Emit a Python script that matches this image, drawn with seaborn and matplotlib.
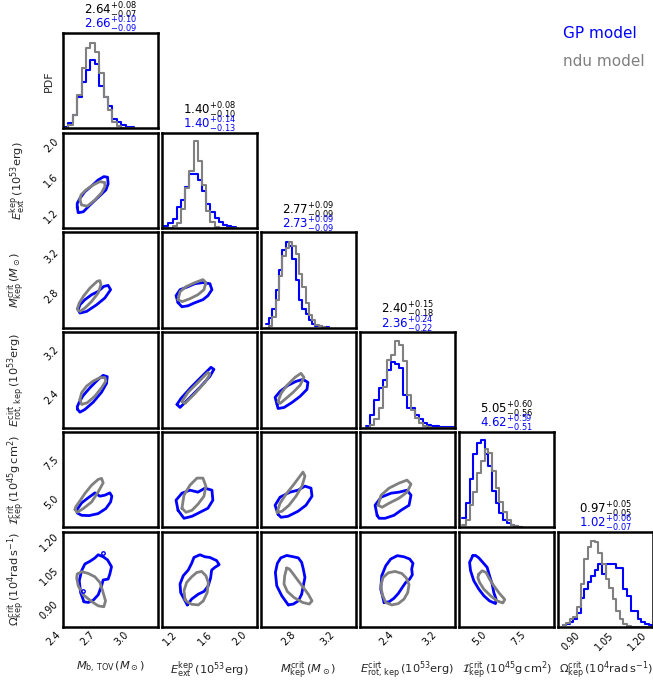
import numpy as np
import pandas as pd
import matplotlib
matplotlib.use("Agg")
import matplotlib.pyplot as plt
import seaborn as sns

# ---- 1D marginal histograms (relative heights) ----
mb_start, mb_width = 2.408, 0.039
mb_gp = [0.018, 0.053, 0.14, 0.33, 0.49, 0.61, 0.72, 0.68, 0.44, 0.33, 0.24, 0.10, 0.07, 0.035, 0.018, 0.01]
mb_ndu = [0.0, 0.035, 0.14, 0.35, 0.63, 0.84, 0.90, 0.80, 0.58, 0.33, 0.19, 0.07, 0.025, 0.007, 0.0, 0.0]

eext_start, eext_width = 1.030, 0.048
eext_gp = [0.02, 0.05, 0.10, 0.22, 0.30, 0.43, 0.57, 0.57, 0.50, 0.39, 0.25, 0.17, 0.11, 0.06, 0.03, 0.02, 0.01]
eext_ndu = [0.0, 0.0, 0.02, 0.05, 0.20, 0.42, 0.60, 0.91, 0.70, 0.45, 0.18, 0.06, 0.01, 0.0, 0.0, 0.0, 0.0]

mkep_start, mkep_width = 2.483, 0.0333
mkep_gp = [0.04, 0.10, 0.20, 0.40, 0.61, 0.82, 0.90, 0.86, 0.72, 0.50, 0.29, 0.20, 0.15, 0.08, 0.04, 0.02, 0.015, 0.01, 0.01]
mkep_ndu = [0.0, 0.02, 0.11, 0.29, 0.54, 0.75, 0.84, 0.90, 0.86, 0.77, 0.56, 0.43, 0.26, 0.13, 0.08, 0.03, 0.02, 0.01, 0.0]

erot_start, erot_width = 1.865, 0.075
erot_gp = [0.02, 0.13, 0.285, 0.41, 0.50, 0.60, 0.69, 0.67, 0.62, 0.34, 0.21, 0.20, 0.13, 0.09, 0.05, 0.03, 0.02, 0.015, 0.01, 0.01, 0.005, 0.005]
erot_ndu = [0.0, 0.03, 0.09, 0.21, 0.43, 0.71, 0.76, 0.91, 0.87, 0.70, 0.34, 0.18, 0.10, 0.05, 0.02, 0.01, 0.0, 0.0, 0.0, 0.0, 0.0, 0.0]

ikep_start, ikep_width = 3.35, 0.235
ikep_gp = [0.095, 0.25, 0.51, 0.77, 0.88, 0.91, 0.77, 0.64, 0.38, 0.25, 0.15, 0.08, 0.04, 0.02, 0.01, 0.0]
ikep_ndu = [0.02, 0.08, 0.235, 0.375, 0.57, 0.69, 0.82, 0.78, 0.59, 0.41, 0.27, 0.16, 0.08, 0.025, 0.01, 0.0]

om_start, om_width = 0.814, 0.016
om_gp = [0.02, 0.03, 0.05, 0.08, 0.15, 0.30, 0.40, 0.47, 0.53, 0.60, 0.66, 0.56, 0.66, 0.66, 0.66,
         0.62, 0.62, 0.40, 0.32, 0.17, 0.17, 0.08, 0.05, 0.03, 0.02]
om_ndu = [0.02, 0.04, 0.08, 0.10, 0.21, 0.45, 0.71, 0.84, 0.90, 0.89, 0.78, 0.66, 0.50, 0.41, 0.29,
          0.17, 0.08, 0.03, 0.01, 0.0, 0.0, 0.0, 0.0, 0.0, 0.0]

# ---- 2D credible contours (x values, y values) ----
gp_eext_mb = ([2.526, 2.535, 2.580, 2.639, 2.712, 2.780, 2.800, 2.795, 2.762, 2.712, 2.654, 2.594, 2.550, 2.526],
              [1.241, 1.180, 1.191, 1.268, 1.356, 1.439, 1.508, 1.584, 1.591, 1.553, 1.485, 1.420, 1.344, 1.287])
ndu_eext_mb = ([2.550, 2.565, 2.615, 2.683, 2.742, 2.771, 2.771, 2.727, 2.668, 2.603, 2.559],
               [1.325, 1.268, 1.256, 1.325, 1.408, 1.477, 1.523, 1.534, 1.496, 1.439, 1.382])

gp_mkep_mb = ([2.535, 2.550, 2.609, 2.698, 2.771, 2.822, 2.800, 2.762, 2.712, 2.654, 2.594, 2.550],
              [2.616, 2.583, 2.599, 2.666, 2.734, 2.817, 2.860, 2.850, 2.800, 2.767, 2.717, 2.666])
ndu_mkep_mb = ([2.526, 2.550, 2.594, 2.654, 2.712, 2.736, 2.727, 2.703, 2.639, 2.580, 2.544],
               [2.623, 2.599, 2.633, 2.700, 2.784, 2.867, 2.908, 2.901, 2.834, 2.750, 2.683])

gp_erot_mb = ([2.530, 2.550, 2.594, 2.668, 2.742, 2.786, 2.792, 2.756, 2.712, 2.639, 2.580, 2.544, 2.526],
              [2.082, 2.032, 2.082, 2.216, 2.400, 2.561, 2.684, 2.708, 2.634, 2.481, 2.340, 2.216, 2.131])
ndu_erot_mb = ([2.550, 2.565, 2.615, 2.683, 2.742, 2.780, 2.771, 2.727, 2.668, 2.609, 2.565],
               [2.266, 2.174, 2.205, 2.327, 2.481, 2.603, 2.666, 2.666, 2.603, 2.511, 2.389])

gp_ikep_mb = ([2.521, 2.565, 2.615, 2.683, 2.727, 2.771, 2.815, 2.833, 2.822, 2.780, 2.712, 2.632, 2.565, 2.526],
              [4.220, 4.682, 4.960, 5.314, 5.105, 5.168, 5.314, 5.105, 4.745, 4.328, 4.012, 3.885, 3.904, 4.050])
ndu_ikep_mb = ([2.506, 2.526, 2.580, 2.654, 2.712, 2.756, 2.742, 2.712, 2.654, 2.594, 2.544, 2.512],
               [4.265, 4.094, 4.328, 4.745, 5.377, 5.946, 6.224, 6.161, 5.800, 5.276, 4.745, 4.429])

gp_om_mb = ([2.586, 2.556, 2.544, 2.565, 2.594, 2.639, 2.683, 2.712, 2.756, 2.795, 2.830, 2.815, 2.800,
             2.756, 2.742, 2.712, 2.668, 2.624],
            [0.906, 0.947, 0.999, 1.044, 1.074, 1.086, 1.101, 1.115, 1.106, 1.092, 1.062, 1.029, 1.007,
             1.003, 0.977, 0.937, 0.913, 0.903])
ndu_om_mb = ([2.526, 2.565, 2.624, 2.683, 2.727, 2.751, 2.777, 2.762, 2.712, 2.654, 2.580, 2.535, 2.521],
             [1.029, 1.040, 1.032, 1.017, 0.992, 0.955, 0.910, 0.884, 0.888, 0.907, 0.937, 0.977, 1.012])
gp_om_mb_islands = ([2.580, 2.751], [0.955, 1.123])

gp_mkep_eext = ([1.188, 1.165, 1.211, 1.302, 1.382, 1.473, 1.553, 1.576, 1.530, 1.473, 1.382, 1.302, 1.233],
                [2.687, 2.757, 2.817, 2.847, 2.877, 2.888, 2.877, 2.817, 2.757, 2.717, 2.687, 2.656, 2.646])
ndu_mkep_eext = ([1.188, 1.211, 1.279, 1.382, 1.473, 1.507, 1.485, 1.416, 1.325, 1.233],
                 [2.717, 2.797, 2.847, 2.888, 2.918, 2.888, 2.817, 2.767, 2.727, 2.697])

gp_erot_eext = ([1.176, 1.211, 1.325, 1.439, 1.553, 1.599, 1.565, 1.450, 1.336, 1.222],
                [2.174, 2.119, 2.303, 2.487, 2.690, 2.818, 2.855, 2.671, 2.487, 2.284])
ndu_erot_eext = ([1.233, 1.268, 1.382, 1.496, 1.553, 1.530, 1.416, 1.302],
                 [2.229, 2.192, 2.376, 2.579, 2.726, 2.763, 2.579, 2.395])

gp_ikep_eext = ([1.188, 1.165, 1.233, 1.325, 1.416, 1.496, 1.576, 1.587, 1.530, 1.439, 1.348, 1.256],
                [4.220, 4.852, 5.295, 5.484, 5.358, 5.611, 5.484, 4.852, 4.347, 4.094, 3.841, 3.715])
ndu_ikep_eext = ([1.233, 1.256, 1.325, 1.405, 1.473, 1.507, 1.485, 1.416, 1.348, 1.279],
                 [4.347, 5.168, 5.800, 6.243, 6.243, 5.737, 5.105, 4.600, 4.220, 4.094])

gp_om_eext = ([1.294, 1.218, 1.211, 1.248, 1.305, 1.344, 1.370, 1.439, 1.496, 1.553, 1.630, 1.659, 1.610,
               1.573, 1.561, 1.534, 1.485, 1.420, 1.344],
              [0.892, 0.947, 0.985, 1.022, 1.047, 1.077, 1.103, 1.115, 1.106, 1.103, 1.089, 1.071, 1.059,
               1.047, 1.012, 0.977, 0.952, 0.940, 0.918])
ndu_om_eext = ([1.268, 1.256, 1.287, 1.344, 1.401, 1.458, 1.507, 1.534, 1.522, 1.477, 1.420, 1.344, 1.287],
               [0.918, 0.955, 0.992, 1.017, 1.036, 1.041, 1.022, 0.992, 0.947, 0.910, 0.892, 0.895, 0.907])

gp_erot_mkep = ([2.596, 2.576, 2.626, 2.706, 2.787, 2.857, 2.907, 2.897, 2.827, 2.747, 2.666, 2.606],
                [2.174, 2.303, 2.413, 2.524, 2.597, 2.634, 2.579, 2.450, 2.321, 2.211, 2.118, 2.100])
ndu_erot_mkep = ([2.606, 2.636, 2.696, 2.777, 2.837, 2.867, 2.827, 2.757, 2.686, 2.626],
                 [2.229, 2.376, 2.524, 2.671, 2.745, 2.671, 2.524, 2.395, 2.284, 2.192])

gp_ikep_mkep = ([2.606, 2.576, 2.626, 2.726, 2.807, 2.877, 2.938, 2.948, 2.887, 2.807, 2.706, 2.636],
                [3.968, 4.536, 5.042, 5.358, 5.484, 5.737, 5.611, 5.105, 4.536, 4.157, 3.841, 3.778])
ndu_ikep_mkep = ([2.596, 2.626, 2.686, 2.767, 2.827, 2.857, 2.877, 2.847, 2.787, 2.716, 2.646],
                 [4.094, 4.663, 5.232, 5.864, 6.369, 6.622, 6.369, 5.737, 5.105, 4.536, 4.157])

gp_om_mkep = ([2.709, 2.643, 2.593, 2.579, 2.599, 2.633, 2.693, 2.760, 2.810, 2.844, 2.860, 2.877, 2.860,
               2.844, 2.810, 2.760],
              [0.892, 0.933, 0.977, 1.036, 1.077, 1.101, 1.112, 1.106, 1.101, 1.081, 1.052, 1.014, 0.977,
               0.940, 0.910, 0.896])
ndu_om_mkep = ([2.693, 2.673, 2.666, 2.699, 2.767, 2.854, 2.920, 2.948, 2.910, 2.860, 2.810, 2.760, 2.719],
               [1.056, 1.022, 0.985, 0.952, 0.925, 0.903, 0.896, 0.910, 0.940, 0.970, 0.999, 1.029, 1.052])

gp_ikep_erot = ([2.063, 2.026, 2.137, 2.321, 2.468, 2.616, 2.689, 2.653, 2.505, 2.376, 2.211, 2.100],
                [3.904, 4.536, 5.042, 5.295, 5.358, 5.484, 5.168, 4.536, 4.220, 3.904, 3.715, 3.715])
ndu_ikep_erot = ([2.082, 2.137, 2.284, 2.468, 2.616, 2.689, 2.616, 2.468, 2.284, 2.155],
                 [4.536, 5.168, 5.611, 5.927, 6.116, 5.864, 5.358, 4.979, 4.663, 4.410])

gp_om_erot = ([2.192, 2.131, 2.149, 2.223, 2.315, 2.437, 2.560, 2.665, 2.726, 2.702, 2.714, 2.665, 2.592,
               2.529, 2.455, 2.376, 2.284],
              [0.903, 0.962, 1.022, 1.066, 1.096, 1.111, 1.106, 1.096, 1.077, 1.052, 1.026, 1.007, 0.992,
               0.970, 0.943, 0.922, 0.906])
ndu_om_erot = ([2.161, 2.131, 2.174, 2.271, 2.395, 2.518, 2.603, 2.653, 2.629, 2.560, 2.455, 2.334, 2.223],
               [0.937, 0.977, 1.014, 1.035, 1.041, 1.032, 1.012, 0.982, 0.947, 0.918, 0.898, 0.892, 0.903])

gp_om_ikep = ([4.016, 3.807, 3.870, 4.079, 4.395, 4.711, 5.071, 5.450, 5.488, 5.343, 5.236, 5.071, 4.920,
               4.648, 4.395, 4.186],
              [1.111, 1.081, 1.044, 0.999, 0.962, 0.933, 0.910, 0.898, 0.918, 0.947, 0.985, 1.022, 1.059,
               1.081, 1.101, 1.112])
ndu_om_ikep = ([4.395, 4.604, 4.856, 5.071, 5.343, 5.703, 6.038, 5.912, 5.552, 5.134, 4.711, 4.439, 4.332],
               [1.029, 1.044, 1.036, 1.007, 0.977, 0.943, 0.916, 0.901, 0.910, 0.933, 0.962, 0.992, 1.014])

# ---- medians and 68% intervals shown above the diagonal ----
ndu_summary = [(2.64, 0.08, 0.07), (1.40, 0.08, 0.10), (2.77, 0.09, 0.09),
               (2.40, 0.15, 0.18), (5.05, 0.60, 0.56), (0.97, 0.05, 0.05)]
gp_summary = [(2.66, 0.10, 0.09), (1.40, 0.14, 0.13), (2.73, 0.09, 0.09),
              (2.36, 0.24, 0.22), (4.62, 0.59, 0.51), (1.02, 0.06, 0.07)]

labels = [r"$M_{\rm b,\,TOV}\,(M_\odot)$",
          r"$E^{\rm kep}_{\rm ext}\,(10^{53}{\rm erg})$",
          r"$M^{\rm crit}_{\rm kep}\,(M_\odot)$",
          r"$E^{\rm cirt}_{\rm rot,\,kep}\,(10^{53}{\rm erg})$",
          r"$\mathcal{I}^{\rm crit}_{\rm kep}\,(10^{45}{\rm g\,cm^{2}})$",
          r"$\Omega^{\rm crit}_{\rm kep}\,(10^{4}{\rm rad\,s^{-1}})$"]
ticks = [[2.4, 2.7, 3.0], [1.2, 1.6, 2.0], [2.8, 3.2], [2.4, 3.2], [5.0, 7.5], [0.90, 1.05, 1.20]]
tick_labels = [["2.4", "2.7", "3.0"], ["1.2", "1.6", "2.0"], ["2.8", "3.2"], ["2.4", "3.2"],
               ["5.0", "7.5"], ["0.90", "1.05", "1.20"]]
lims = [(2.40, 3.24), (1.005, 2.09), (2.435, 3.39), (1.75, 3.50), (3.15, 9.15), (0.794, 1.218)]

hists = [(mb_start, mb_width, mb_gp, mb_ndu),
         (eext_start, eext_width, eext_gp, eext_ndu),
         (mkep_start, mkep_width, mkep_gp, mkep_ndu),
         (erot_start, erot_width, erot_gp, erot_ndu),
         (ikep_start, ikep_width, ikep_gp, ikep_ndu),
         (om_start, om_width, om_gp, om_ndu)]

contours = {(1, 0): (gp_eext_mb, ndu_eext_mb),
            (2, 0): (gp_mkep_mb, ndu_mkep_mb),
            (3, 0): (gp_erot_mb, ndu_erot_mb),
            (4, 0): (gp_ikep_mb, ndu_ikep_mb),
            (5, 0): (gp_om_mb, ndu_om_mb),
            (2, 1): (gp_mkep_eext, ndu_mkep_eext),
            (3, 1): (gp_erot_eext, ndu_erot_eext),
            (4, 1): (gp_ikep_eext, ndu_ikep_eext),
            (5, 1): (gp_om_eext, ndu_om_eext),
            (3, 2): (gp_erot_mkep, ndu_erot_mkep),
            (4, 2): (gp_ikep_mkep, ndu_ikep_mkep),
            (5, 2): (gp_om_mkep, ndu_om_mkep),
            (4, 3): (gp_ikep_erot, ndu_ikep_erot),
            (5, 3): (gp_om_erot, ndu_om_erot),
            (5, 4): (gp_om_ikep, ndu_om_ikep)}

GP_COLOR = "#0000ff"
NDU_COLOR = "#808080"

sns.set_style("white")
plt.rcParams["font.family"] = ["DejaVu Sans"]
plt.rcParams["mathtext.fontset"] = "dejavusans"

fig, axes = plt.subplots(6, 6, figsize=(6.53, 6.81), dpi=100,
                         gridspec_kw=dict(left=63 / 653, right=1.0, bottom=54 / 681, top=648 / 681,
                                          wspace=0.045, hspace=0.045))


def draw_loop(ax, pts, color):
    x = list(pts[0]) + [pts[0][0]]
    y = list(pts[1]) + [pts[1][0]]
    sns.lineplot(x=x, y=y, sort=False, estimator=None, color=color, linewidth=2.0, ax=ax)


def draw_hist(ax, start, width, heights, color):
    n = len(heights)
    centers = start + width * (np.arange(n) + 0.5)
    df = pd.DataFrame({"x": centers, "w": heights})
    sns.histplot(data=df, x="x", weights="w", binwidth=width, binrange=(start, start + n * width),
                 element="step", fill=False, color=color, linewidth=1.5, ax=ax)


for i in range(6):
    for j in range(6):
        ax = axes[i, j]
        if j > i:
            ax.axis("off")
            continue

        if i == j:
            start, width, gp, ndu = hists[i]
            draw_hist(ax, start, width, gp, GP_COLOR)
            draw_hist(ax, start, width, ndu, NDU_COLOR)
            ax.set_ylim(0, 1.0)
            ax.set_yticks([])
            m, up, lo = ndu_summary[i]
            ax.text(0.5, 1.23, rf"${m:.2f}^{{+{up:.2f}}}_{{-{lo:.2f}}}$", transform=ax.transAxes,
                    ha="center", va="center", fontsize=8.5, color="black")
            m, up, lo = gp_summary[i]
            ax.text(0.5, 1.08, rf"${m:.2f}^{{+{up:.2f}}}_{{-{lo:.2f}}}$", transform=ax.transAxes,
                    ha="center", va="center", fontsize=8.5, color=GP_COLOR)
        else:
            gp_c, ndu_c = contours[(i, j)]
            draw_loop(ax, gp_c, GP_COLOR)
            draw_loop(ax, ndu_c, NDU_COLOR)
            if (i, j) == (5, 0):
                ax.plot(gp_om_mb_islands[0], gp_om_mb_islands[1], "o", mfc="none",
                        mec=GP_COLOR, ms=2.5, mew=1.0)
            ax.set_ylim(*lims[i])
            ax.set_yticks(ticks[i])
            if j == 0:
                ax.set_yticklabels(tick_labels[i], rotation=45, fontsize=7)
            else:
                ax.set_yticklabels([])

        ax.set_xlim(*lims[j])
        ax.set_xticks(ticks[j])
        if i == 5:
            ax.set_xticklabels(tick_labels[j], rotation=45, ha="right", fontsize=7)
            ax.set_xlabel(labels[j], fontsize=8.2)
            ax.xaxis.set_label_coords(0.5, -0.34)
        else:
            ax.set_xticklabels([])
            ax.set_xlabel("")

        if j == 0:
            if i == 0:
                ax.set_ylabel("PDF", fontsize=8)
                ax.yaxis.set_label_coords(-0.10, 0.5)
            else:
                ax.set_ylabel(labels[i], fontsize=8.2)
                ax.yaxis.set_label_coords(-0.37, 0.5)
        else:
            ax.set_ylabel("")

        ax.tick_params(direction="in", length=3, width=0.8, pad=2, colors="black")
        for sp in ax.spines.values():
            sp.set_linewidth(1.8)
            sp.set_color("black")

fig.text(563 / 653, 1 - 34 / 681, "GP model", color=GP_COLOR, fontsize=11, va="center", ha="left")
fig.text(563 / 653, 1 - 62 / 681, "ndu model", color=NDU_COLOR, fontsize=11, va="center", ha="left")

fig.savefig("out.png", dpi=100)
